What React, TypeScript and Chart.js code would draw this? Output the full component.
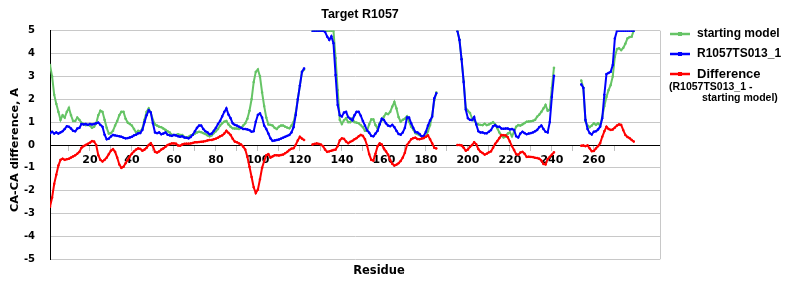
import { useEffect, useRef } from 'react';
import { Chart, registerables } from 'chart.js';

Chart.register(...registerables);

const _ = null;

const TITLE = 'Target R1057';
const X_TITLE = 'Residue';
const Y_TITLE = 'CA-CA difference, A';
const FIRST_RESIDUE = 1;
const X_MIN = 1;
const X_MAX = 291.5;
const X_TICKS = [10, 20, 30, 40, 50, 60, 70, 80, 90, 100, 110, 120, 130, 140, 150, 160, 170, 180, 190, 200, 210, 220, 230, 240, 250, 260, 270];
const X_LABELS = [20, 40, 60, 80, 100, 120, 140, 160, 180, 200, 220, 240, 260];
const Y_MIN = -5;
const Y_MAX = 5;

const SERIES_NAMES = ['starting model', 'R1057TS013_1', 'Difference'];
const DIFF_NOTE = ['(R1057TS013_1 -', 'starting model)'];

const startingModel = [
  3.5, 3.0, 2.2, 1.8, 1.45, 1.1, 1.3, 1.2, 1.45, 1.62,
  1.3, 1.05, 1.05, 1.2, 1.1, 0.97, 0.92, 0.87, 0.88, 0.85,
  0.75, 0.8, 0.95, 1.3, 1.5, 1.45, 1.1, 0.75, 0.5, 0.52,
  0.62, 0.85, 1.05, 1.3, 1.45, 1.45, 1.15, 0.98, 0.92, 0.85,
  0.7, 0.55, 0.62, 0.6, 0.72, 1.1, 1.45, 1.6, 1.42, 1.1,
  0.9, 0.85, 0.8, 0.78, 0.72, 0.66, 0.6, 0.55, 0.45, 0.44,
  0.44, 0.47, 0.44, 0.44, 0.35, 0.32, 0.36, 0.42, 0.45, 0.5,
  0.55, 0.58, 0.56, 0.52, 0.48, 0.42, 0.38, 0.42, 0.52, 0.6,
  0.7, 0.85, 0.95, 1.02, 1.05, 0.9, 0.8, 0.73, 0.72, 0.72,
  0.7, 0.75, 0.85, 0.95, 1.15, 1.5, 2.0, 2.75, 3.2, 3.3,
  3.0, 2.3, 1.7, 1.2, 0.9, 0.88, 0.85, 0.75, 0.7, 0.8,
  0.85, 0.85, 0.8, 0.76, 0.73, 0.85, 1.0, 1.4, 2.0, 2.6,
  3.2, 3.3, _, _, _, 5, 5, 5, 5, 5,
  5, 5, 5, 5, 5, 5, 3.8, 2.4, 1.1, 0.92,
  1.08, 1.17, 1.0, 1.0, 1.17, 1.0, 0.98, 0.95, 0.87, 0.78,
  0.62, 0.62, 0.9, 1.12, 1.12, 0.87, 0.72, 0.95, 1.08, 1.24,
  1.38, 1.35, 1.45, 1.68, 1.88, 1.6, 1.22, 1.02, 1.1, 1.15,
  1.25, 1.02, 0.8, 0.68, 0.52, 0.48, 0.43, 0.38, 0.32, 0.36,
  0.6, 0.87, 1.3, 1.95, 2.3, _, _, _, _, _,
  _, _, _, _, 5, 4.6, 3.75, 2.8, 1.62, 1.5,
  1.4, 1.17, 1.08, 0.95, 0.9, 0.88, 0.87, 0.93, 0.87, 0.9,
  0.95, 1.0, 0.9, 0.73, 0.55, 0.4, 0.33, 0.37, 0.5, 0.55,
  0.38, 0.58, 0.8, 0.87, 0.85, 0.9, 0.96, 1.02, 1.03, 1.04,
  1.06, 1.1, 1.24, 1.33, 1.45, 1.6, 1.75, 1.5, 1.55, 2.5,
  3.38, _, _, _, _, _, _, _, _, _,
  _, _, _, 2.82, 2.5, 1.05, 0.85, 0.78, 0.85, 0.95,
  0.88, 0.95, 0.85, 1.24, 1.7, 2.1, 2.4, 2.62, 3.0, 3.86,
  4.2, 4.23, 4.15, 4.25, 4.43, 4.66, 4.72, 4.74, 5.0,
];

const r1057ts013 = [
  0.51, 0.58, 0.5, 0.55, 0.5, 0.55, 0.6, 0.7, 0.82, 0.8,
  0.72, 0.62, 0.6, 0.72, 0.75, 0.92, 0.9, 0.92, 0.88, 0.92,
  0.9, 0.92, 0.95, 0.98, 0.88, 0.8, 0.45, 0.25, 0.28, 0.37,
  0.44, 0.42, 0.4, 0.38, 0.36, 0.32, 0.29, 0.3, 0.33, 0.36,
  0.42, 0.45, 0.51, 0.52, 0.66, 1.0, 1.3, 1.52, 1.42, 0.95,
  0.55, 0.52, 0.55, 0.47, 0.5, 0.55, 0.45, 0.42, 0.4, 0.44,
  0.42, 0.38, 0.36, 0.38, 0.33, 0.32, 0.29, 0.35, 0.45, 0.6,
  0.75, 0.85, 0.85, 0.7, 0.6, 0.55, 0.47, 0.5, 0.62, 0.75,
  0.92, 1.05, 1.25, 1.45, 1.6, 1.33, 1.17, 0.95, 0.88, 0.85,
  0.8, 0.75, 0.7, 0.7, 0.68, 0.65, 0.58, 0.6, 1.02, 1.32,
  1.38, 1.2, 0.85, 0.7, 0.5, 0.29, 0.18, 0.2, 0.22, 0.24,
  0.28, 0.32, 0.36, 0.4, 0.44, 0.55, 0.78, 1.31, 2.0, 2.6,
  3.2, 3.35, _, _, _, 5, 5, 5, 5, 5,
  5, 4.95, 4.74, 4.6, 4.75, 4.45, 3.06, 1.75, 1.3, 1.25,
  1.42, 1.45, 1.22, 1.15, 1.08, 1.3, 1.45, 1.45, 1.28, 1.05,
  0.85, 0.64, 0.54, 0.4, 0.38, 0.5, 0.62, 0.9, 1.15, 1.1,
  0.95, 0.85, 0.82, 0.88, 0.78, 0.62, 0.48, 0.45, 0.55, 0.75,
  1.2, 1.2, 0.95, 0.75, 0.57, 0.55, 0.48, 0.38, 0.4, 0.58,
  0.85, 1.07, 1.24, 2.04, 2.26, _, _, _, _, _,
  _, _, _, _, 5, 4.6, 3.75, 2.75, 1.55, 1.17,
  1.1, 1.09, 1.22, 0.9, 0.6, 0.55, 0.55, 0.51, 0.51, 0.58,
  0.65, 0.82, 0.87, 0.8, 0.8, 0.72, 0.71, 0.72, 0.72, 0.68,
  0.7, 0.66, 0.38, 0.33, 0.5, 0.58, 0.52, 0.47, 0.5, 0.52,
  0.55, 0.6, 0.66, 0.78, 0.85, 0.7, 0.58, 0.55, 1.0, 2.1,
  3.03, _, _, _, _, _, _, _, _, _,
  _, _, _, 2.65, 2.5, 1.1, 0.7, 0.52, 0.46, 0.58,
  0.6, 0.68, 0.8, 1.17, 2.2, 3.1, 3.15, 3.2, 3.5, 4.66,
  5, 5, 5, 5, 5, 5, 5, 5, 5,
];

const difference = [
  -2.7, -2.3, -1.7, -1.3, -0.9, -0.65, -0.6, -0.65, -0.62, -0.6,
  -0.55, -0.5, -0.45, -0.38, -0.3, -0.12, -0.05, 0.0, 0.05, 0.1,
  0.17, 0.15, 0.0, -0.45, -0.65, -0.72, -0.65, -0.55, -0.4, -0.25,
  -0.18, -0.3, -0.55, -0.85, -1.0, -0.95, -0.8, -0.65, -0.5, -0.38,
  -0.28, -0.2, -0.15, -0.17, -0.25, -0.2, -0.12, 0.0, 0.08, -0.05,
  -0.3, -0.33, -0.28, -0.2, -0.15, -0.08, 0.0, 0.04, 0.07, 0.07,
  0.06, -0.02, -0.03, 0.02, 0.05, 0.06, 0.06, 0.07, 0.09, 0.12,
  0.12, 0.13, 0.14, 0.15, 0.17, 0.2, 0.22, 0.22, 0.25, 0.28,
  0.32, 0.38, 0.42, 0.5, 0.62, 0.53, 0.44, 0.27, 0.15, 0.12,
  0.07, 0.02, -0.07, -0.2, -0.52, -0.95, -1.4, -1.85, -2.1, -1.95,
  -1.5, -1.0, -0.7, -0.45, -0.4, -0.55, -0.5, -0.45, -0.45, -0.46,
  -0.44, -0.42, -0.36, -0.3, -0.22, -0.16, -0.14, 0.0, 0.2, 0.36,
  0.28, 0.22, _, _, _, 0.02, 0.05, 0.07, 0.05, 0.02,
  -0.05, -0.2, -0.3, -0.28, -0.25, -0.22, -0.2, -0.05, 0.2, 0.29,
  0.27, 0.15, 0.08, 0.14, 0.18, 0.25, 0.3, 0.38, 0.44, 0.4,
  0.25, -0.02, -0.4, -0.65, -0.68, -0.38, -0.05, 0.07, 0.02, -0.15,
  -0.28, -0.42, -0.66, -0.82, -0.9, -0.86, -0.8, -0.7, -0.55, -0.34,
  0.0, 0.12, 0.25, 0.3, 0.32, 0.26, 0.25, 0.28, 0.3, 0.36,
  0.42, 0.25, 0.07, -0.12, -0.15, _, _, _, _, _,
  _, _, _, _, 0.0, 0.0, -0.02, -0.12, -0.25, -0.2,
  -0.08, 0.0, 0.12, 0.03, -0.18, -0.29, -0.35, -0.42, -0.38, -0.32,
  -0.28, -0.12, 0.05, 0.17, 0.3, 0.44, 0.43, 0.42, 0.34, 0.15,
  -0.05, -0.22, -0.4, -0.42, -0.33, -0.3, -0.38, -0.52, -0.51, -0.52,
  -0.53, -0.56, -0.57, -0.6, -0.68, -0.83, -0.85, -0.62, -0.52, -0.42,
  -0.32, _, _, _, _, _, _, _, _, _,
  _, _, _, -0.03, -0.02, -0.05, -0.02, -0.15, -0.27, -0.26,
  -0.15, -0.05, 0.08, 0.36, 0.6, 0.8, 0.7, 0.66, 0.68, 0.76,
  0.85, 0.9, 0.88, 0.65, 0.44, 0.35, 0.3, 0.22, 0.15,
];

const GREEN = '#66c466';
const BLUE = '#0000ff';
const RED = '#ff0000';
const COLORS = [GREEN, BLUE, RED];
const GRID = '#c8c8c8';

const toPoints = (vals: (number | null)[]) =>
  vals.map((v, i) => ({ x: FIRST_RESIDUE + i, y: v }));

const SANS = '"Liberation Sans", Arial, sans-serif';
const DEJAVU = '"DejaVu Sans", Verdana, sans-serif';

const decorPlugin = {
  id: 'decor',
  beforeDatasetsDraw(chart: any) {
    const { ctx, chartArea } = chart;
    ctx.save();
    ctx.strokeStyle = GRID;
    ctx.lineWidth = 1;
    const xr = Math.round(chartArea.right) + 0.5;
    ctx.beginPath();
    ctx.moveTo(xr, chartArea.top);
    ctx.lineTo(xr, chartArea.bottom);
    ctx.stroke();
    ctx.restore();
  },
  afterDraw(chart: any) {
    const { ctx } = chart;
    ctx.save();
    ctx.fillStyle = '#000';
    ctx.textBaseline = 'middle';

    // chart title
    ctx.textAlign = 'center';
    ctx.font = `bold 12.5px ${SANS}`;
    ctx.fillText(TITLE, 360, 15);

    // x axis title
    ctx.font = `bold 11.5px ${DEJAVU}`;
    ctx.fillText(X_TITLE, 379, 271);

    // y axis title
    ctx.save();
    ctx.translate(15, 150);
    ctx.rotate(-Math.PI / 2);
    ctx.font = `bold 11.3px ${DEJAVU}`;
    ctx.fillText(Y_TITLE, 0, 0);
    ctx.restore();

    // legend
    const rows = [34, 54, 74];
    ctx.textAlign = 'left';
    rows.forEach((y, i) => {
      ctx.strokeStyle = COLORS[i];
      ctx.lineWidth = 2.5;
      ctx.beginPath();
      ctx.moveTo(670, y);
      ctx.lineTo(690, y);
      ctx.stroke();
      ctx.fillStyle = COLORS[i];
      ctx.fillRect(678, y - 2, 4, 4);
      ctx.fillStyle = '#000';
      ctx.font = i === 2 ? `bold 13px ${SANS}` : `bold 12px ${SANS}`;
      ctx.fillText(SERIES_NAMES[i], 697, y);
    });
    ctx.font = `bold 10.5px ${SANS}`;
    ctx.fillText(DIFF_NOTE[0], 669, 87);
    ctx.fillText(DIFF_NOTE[1], 702, 98);
    ctx.restore();
  },
};

export default function App() {
  const ref = useRef<HTMLCanvasElement>(null);

  useEffect(() => {
    if (!ref.current) return;
    const mk = (label: string, vals: (number | null)[], color: string, order: number) => ({
      label,
      data: toPoints(vals),
      borderColor: color,
      backgroundColor: color,
      borderWidth: 2,
      pointRadius: 1,
      pointStyle: 'rect' as const,
      pointBorderWidth: 1,
      pointBackgroundColor: color,
      pointBorderColor: color,
      fill: false,
      tension: 0,
      spanGaps: false,
      order,
    });

    const chart = new Chart(ref.current, {
      type: 'line',
      data: {
        datasets: [
          mk(SERIES_NAMES[0], startingModel, GREEN, 3),
          mk(SERIES_NAMES[1], r1057ts013, BLUE, 2),
          mk(SERIES_NAMES[2], difference, RED, 1),
        ],
      },
      options: {
        animation: false,
        responsive: false,
        devicePixelRatio: 1,
        layout: { padding: { left: 0, right: 140, top: 30.7, bottom: 40.7 } },
        plugins: {
          legend: { display: false },
          title: { display: false },
          tooltip: { enabled: false },
        },
        scales: {
          x: {
            type: 'linear',
            min: X_MIN,
            max: X_MAX,
            position: { y: 0 } as any,
            afterBuildTicks: (scale: any) => {
              scale.ticks = X_TICKS.map((v) => ({ value: v }));
            },
            ticks: {
              autoSkip: false,
              maxRotation: 0,
              minRotation: 0,
              padding: 4,
              color: '#000',
              font: { family: DEJAVU, size: 11, weight: 'bold' },
              callback: (v: any) => (X_LABELS.includes(Number(v)) ? String(v) : ''),
            },
            grid: { drawOnChartArea: false, drawTicks: true, tickLength: 5, color: '#c0c0c0' },
            border: { display: true, color: '#000', width: 1 },
          },
          y: {
            type: 'linear',
            min: Y_MIN,
            max: Y_MAX,
            afterFit: (scale: any) => {
              scale.width = 50;
            },
            ticks: {
              stepSize: 1,
              padding: 15,
              color: '#000',
              font: { family: DEJAVU, size: 10, weight: 'bold' },
            },
            grid: { color: GRID, drawTicks: false, lineWidth: 1 },
            border: { display: true, color: '#000', width: 1 },
          },
        },
      } as any,
      plugins: [decorPlugin],
    });
    return () => chart.destroy();
  }, []);

  return (
    <div style={{ position: 'absolute', left: 0, top: 0, width: 800, height: 300, background: '#fff' }}>
      <canvas ref={ref} width={800} height={300} style={{ display: 'block' }} />
    </div>
  );
}
